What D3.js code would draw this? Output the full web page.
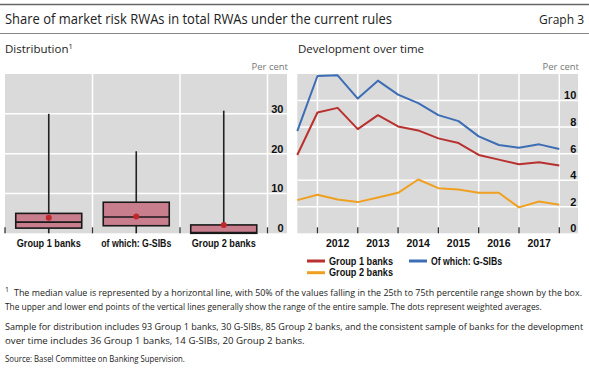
<!DOCTYPE html>
<html><head><meta charset="utf-8">
<script src="https://cdn.jsdelivr.net/npm/d3@7"></script>
<style>body{margin:0;background:#fff}svg{display:block}</style>
</head><body>
<svg id="c" width="589" height="369"></svg>
<script>
// ---- data ----
const boxCategories = ["Group 1 banks", "of which: G-SIBs", "Group 2 banks"];
const boxMin    = [0, 0, 0];
const boxQ1     = [1.3, 1.9, 0];
const boxMedian = [2.8, 4.1, 0.2];
const boxQ3     = [5.0, 7.8, 2.1];
const boxMax    = [30.0, 20.6, 30.8];
const boxWeightedAvg = [3.9, 4.2, 2.1];
const boxTicks = [0, 10, 20, 30];

const periods = ["Jun 2011","Dec 2011","Jun 2012","Dec 2012","Jun 2013","Dec 2013","Jun 2014",
                 "Dec 2014","Jun 2015","Dec 2015","Jun 2016","Dec 2016","Jun 2017","Dec 2017"];
const group1 = [5.9, 9.1, 9.45, 7.85, 8.9, 8.05, 7.75, 7.15, 6.8, 5.9, 5.55, 5.2, 5.35, 5.1];
const gsibs  = [7.7, 11.85, 11.9, 10.15, 11.5, 10.45, 9.8, 8.9, 8.45, 7.3, 6.65, 6.45, 6.7, 6.35];
const group2 = [2.5, 2.9, 2.55, 2.35, 2.7, 3.05, 4.05, 3.4, 3.3, 3.05, 3.05, 1.95, 2.4, 2.15];
const yearLabels = ["2012","2013","2014","2015","2016","2017"];
const lineTicks = [0, 2, 4, 6, 8, 10];
const seriesNames = ["Group 1 banks", "Of which: G-SIBs", "Group 2 banks"];

// ---- styles ----
const BG = "#dadada", RED = "#b8312f", BLUE = "#3d6db4", ORANGE = "#f0a020";
const FONT = "'Open Sans', 'Liberation Sans', sans-serif";
const LBL = "'Liberation Sans', sans-serif";
const NOTE = "'Open Sans', 'Liberation Sans', sans-serif";

const svg = d3.select("#c");

// header
svg.append("line").attr("x1",0).attr("x2",589).attr("y1",4.5).attr("y2",4.5).attr("stroke","#666").attr("stroke-width",1.5);
svg.append("text").attr("x",5).attr("y",24).attr("font-family",FONT).attr("font-size",14.5).attr("fill","#222")
  .attr("textLength",387).attr("lengthAdjust","spacingAndGlyphs")
  .text("Share of market risk RWAs in total RWAs under the current rules");
svg.append("text").attr("x",584).attr("y",24).attr("text-anchor","end").attr("font-family",FONT).attr("font-size",12).attr("fill","#222").text("Graph 3");
svg.append("line").attr("x1",0).attr("x2",589).attr("y1",33.5).attr("y2",33.5).attr("stroke","#888").attr("stroke-width",1.2);

const sub1 = svg.append("text").attr("x",5).attr("y",53).attr("font-family",FONT).attr("font-size",11.5).attr("fill","#222");
sub1.append("tspan").text("Distribution");
sub1.append("tspan").attr("font-size",7.5).attr("dy",-4).text("1");
svg.append("text").attr("x",298).attr("y",53).attr("font-family",FONT).attr("font-size",11.5).attr("fill","#222").text("Development over time");

function perCent(x){
  svg.append("text").attr("x",x).attr("y",70).attr("text-anchor","end").attr("font-family",FONT)
    .attr("font-size",9.5).attr("fill","#777").text("Per cent");
}
perCent(288); perCent(579);

// ---- left panel ----
const L = {x0:5, x1:267.5, bgR:287, top:74, bottom:233.3};
svg.append("rect").attr("x",L.x0).attr("y",L.top).attr("width",L.bgR-L.x0).attr("height",L.bottom-L.top).attr("fill",BG);
const yL = d3.scaleLinear().domain([0,40]).range([L.bottom, L.top]);
const xL = d3.scaleBand().domain(boxCategories).range([L.x0, L.x1]);

const gL = svg.append("g");
gL.selectAll(".hg").data(boxTicks.filter(d=>d>0)).join("line")
  .attr("x1",L.x0).attr("x2",L.bgR).attr("y1",d=>yL(d)).attr("y2",d=>yL(d)).attr("stroke","#fff").attr("stroke-width",1.5);
const sepL = boxCategories.slice(1).map(c=>xL(c)).concat([L.x1]);
gL.selectAll(".vg").data(sepL).join("line")
  .attr("x1",d=>d).attr("x2",d=>d).attr("y1",L.top).attr("y2",L.bottom).attr("stroke","#fff").attr("stroke-width",1.5);
gL.selectAll(".tk").data([L.x0].concat(sepL)).join("line")
  .attr("x1",d=>d).attr("x2",d=>d).attr("y1",L.bottom-6).attr("y2",L.bottom).attr("stroke","#333").attr("stroke-width",1.3);
const axL = d3.axisRight(yL).tickValues(boxTicks).tickSize(0).tickFormat(d3.format("d"));
const axLg = svg.append("g").attr("transform",`translate(${L.x1},0)`).call(axL);
axLg.select(".domain").remove();
axLg.selectAll("text").attr("x",16).attr("dy","-0.15em").attr("text-anchor","end")
  .attr("font-family",LBL).attr("font-weight","bold").attr("font-size",11).attr("fill","#111");

const boxW = 66;
const bd = boxCategories.map((c,i)=>({c, min:boxMin[i], q1:boxQ1[i], med:boxMedian[i], q3:boxQ3[i], max:boxMax[i], avg:boxWeightedAvg[i]}));
const bg = gL.selectAll(".box").data(bd).join("g").attr("transform",d=>`translate(${xL(d.c)+xL.bandwidth()/2},0)`);
bg.append("line").attr("y1",d=>yL(d.min)).attr("y2",d=>yL(d.max)).attr("stroke","#222").attr("stroke-width",1.6);
bg.append("rect").attr("x",-boxW/2).attr("width",boxW).attr("y",d=>yL(d.q3)).attr("height",d=>yL(d.q1)-yL(d.q3))
  .attr("fill","#c97e8d").attr("stroke","#1a1a1a").attr("stroke-width",1.6);
bg.append("line").attr("x1",-boxW/2).attr("x2",boxW/2).attr("y1",d=>yL(d.med)).attr("y2",d=>yL(d.med)).attr("stroke","#1a1a1a").attr("stroke-width",1.6);
bg.append("circle").attr("r",3).attr("cy",d=>yL(d.avg)).attr("fill","#c0282a");
gL.selectAll(".cl").data(boxCategories).join("text")
  .attr("x",d=>xL(d)+xL.bandwidth()/2).attr("y",247).attr("text-anchor","middle")
  .attr("font-family",LBL).attr("font-weight","bold").attr("font-size",10.5).attr("fill","#111")
  .attr("textLength",d=>d.length>14?70:64).attr("lengthAdjust","spacingAndGlyphs").text(d=>d);

// ---- right panel ----
const R = {x0:297.3, x1:559.3, bgR:578, top:74, bottom:233.3};
svg.append("rect").attr("x",R.x0).attr("y",R.top).attr("width",R.bgR-R.x0).attr("height",R.bottom-R.top).attr("fill",BG);
const monthMap = {Jun:0.5, Dec:1.0};
const tOf = p => +p.split(" ")[1] + monthMap[p.split(" ")[0]];
const xR = d3.scaleLinear().domain([tOf(periods[0]), tOf(periods[periods.length-1])]).range([R.x0, R.x1]);
const yR = d3.scaleLinear().domain([0,12]).range([R.bottom, R.top]);
const gR = svg.append("g");
gR.selectAll(".hg").data(lineTicks.filter(d=>d>0)).join("line")
  .attr("x1",R.x0).attr("x2",R.bgR).attr("y1",d=>yR(d)).attr("y2",d=>yR(d)).attr("stroke","#fff").attr("stroke-width",1.5);
const yearB = yearLabels.map(y=>+y).concat([+yearLabels[yearLabels.length-1]+1]);
gR.selectAll(".vg").data(yearB).join("line")
  .attr("x1",d=>xR(d)).attr("x2",d=>xR(d)).attr("y1",R.top).attr("y2",R.bottom).attr("stroke","#fff").attr("stroke-width",1.5);
gR.selectAll(".tk").data(yearB).join("line")
  .attr("x1",d=>xR(d)).attr("x2",d=>xR(d)).attr("y1",R.bottom-6).attr("y2",R.bottom).attr("stroke","#333").attr("stroke-width",1.3);
const axR = d3.axisRight(yR).tickValues(lineTicks).tickSize(0).tickFormat(d3.format("d"));
const axRg = svg.append("g").attr("transform",`translate(${R.x1},0)`).call(axR);
axRg.select(".domain").remove();
axRg.selectAll("text").attr("x",17).attr("dy","-0.15em").attr("text-anchor","end")
  .attr("font-family",LBL).attr("font-weight","bold").attr("font-size",11).attr("fill","#111");
gR.selectAll(".yl").data(yearLabels).join("text")
  .attr("x",d=>xR(+d+0.5)).attr("y",247).attr("text-anchor","middle")
  .attr("font-family",LBL).attr("font-weight","bold").attr("font-size",10.5).attr("fill","#111").text(d=>d);

const line = d3.line().x((d,i)=>xR(tOf(periods[i]))).y(d=>yR(d));
const seriesList = [{v:group2,c:ORANGE},{v:group1,c:RED},{v:gsibs,c:BLUE}];
gR.selectAll(".ln").data(seriesList).join("path")
  .attr("d",d=>line(d.v)).attr("fill","none").attr("stroke",d=>d.c).attr("stroke-width",2).attr("stroke-linejoin","round");

// legend
const leg = [{n:seriesNames[0],c:RED,x:307,y:261},{n:seriesNames[1],c:BLUE,x:409,y:261},{n:seriesNames[2],c:ORANGE,x:307,y:272.7}];
const lg = svg.selectAll(".lg").data(leg).join("g").attr("transform",d=>`translate(${d.x},${d.y})`);
lg.append("line").attr("x1",0).attr("x2",18).attr("stroke",d=>d.c).attr("stroke-width",3);
lg.append("text").attr("x",22).attr("dy","0.35em").attr("font-family",LBL).attr("font-weight","bold")
  .attr("font-size",10.5).attr("fill","#111").attr("textLength",d=>d.n.length>14?71:64).attr("lengthAdjust","spacingAndGlyphs").text(d=>d.n);

// footnotes: rendered at natural size, then squeezed horizontally to the reference width
const notes = [
  {t:"The median value is represented by a horizontal line, with 50% of the values falling in the 25th to 75th percentile range shown by the box.", x:14, y:296, w:568},
  {t:"The upper and lower end points of the vertical lines generally show the range of the entire sample. The dots represent weighted averages.", x:5, y:310, w:537},
  {t:"Sample for distribution includes 93 Group 1 banks, 30 G-SIBs, 85 Group 2 banks, and the consistent sample of banks for the development", x:5, y:330, w:578},
  {t:"over time includes 36 Group 1 banks, 14 G-SIBs, 20 Group 2 banks.", x:5, y:344, w:300},
  {t:"Source: Basel Committee on Banking Supervision.", x:5, y:362, w:180}
];
svg.append("text").attr("x",5).attr("y",292).attr("font-family",FONT).attr("font-size",7).attr("fill","#222").text("1");
const fn = svg.selectAll(".fn").data(notes).join("text").attr("x",0).attr("y",0)
  .attr("font-family",NOTE).attr("font-size",9.6).attr("fill","#222").text(d=>d.t);
fn.each(function(d){
  const n = this.getComputedTextLength() || d.w;
  d3.select(this).attr("transform",`translate(${d.x},${d.y}) scale(${d.w/n},1)`);
});
</script>
</body></html>
